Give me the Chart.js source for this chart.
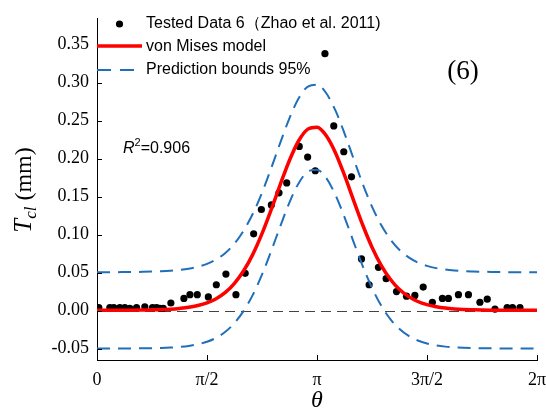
<!DOCTYPE html>
<html>
<head>
<meta charset="utf-8">
<script src="https://cdn.jsdelivr.net/npm/chart.js@4.4.1/dist/chart.umd.min.js"></script>
<style>
  html, body { margin: 0; padding: 0; background: #fff; }
  #wrap { width: 546px; height: 412px; }
</style>
</head>
<body>
<div id="wrap"><canvas id="c" width="546" height="412"></canvas></div>
<script>
// Angular positions (rad) of the fitted curves
const thetaGrid = [0, 0.131, 0.262, 0.393, 0.524, 0.654, 0.785, 0.916, 1.047, 1.178, 1.309, 1.440,
  1.571, 1.702, 1.833, 1.963, 2.094, 2.225, 2.356, 2.487, 2.618, 2.749, 2.880, 3.011,
  3.142, 3.272, 3.403, 3.534, 3.665, 3.796, 3.927, 4.058, 4.189, 4.320, 4.451, 4.581,
  4.712, 4.843, 4.974, 5.105, 5.236, 5.367, 5.498, 5.629, 5.760, 5.890, 6.021, 6.152, 6.283];

// von Mises model, Tcl (mm)
const modelTcl = [0.0003, 0.0004, 0.0004, 0.0004, 0.0006, 0.0007, 0.0010, 0.0013, 0.0019, 0.0029, 0.0043, 0.0067,
  0.0102, 0.0157, 0.0239, 0.0359, 0.0524, 0.0740, 0.1012, 0.1327, 0.1662, 0.1979, 0.2235, 0.2388,
  0.2413, 0.2304, 0.2081, 0.1781, 0.1448, 0.1123, 0.0834, 0.0596, 0.0413, 0.0277, 0.0184, 0.0120,
  0.0078, 0.0051, 0.0033, 0.0022, 0.0015, 0.0011, 0.0008, 0.0006, 0.0005, 0.0004, 0.0004, 0.0003, 0.0003];

// 95% prediction bounds, Tcl (mm)
const upperTcl = [0.0505, 0.0506, 0.0506, 0.0507, 0.0508, 0.0510, 0.0513, 0.0518, 0.0525, 0.0535, 0.0551, 0.0576,
  0.0615, 0.0673, 0.0758, 0.0882, 0.1052, 0.1274, 0.1551, 0.1872, 0.2211, 0.2533, 0.2793, 0.2948,
  0.2973, 0.2863, 0.2637, 0.2333, 0.1995, 0.1664, 0.1369, 0.1126, 0.0938, 0.0797, 0.0700, 0.0633,
  0.0589, 0.0559, 0.0540, 0.0528, 0.0520, 0.0515, 0.0511, 0.0509, 0.0508, 0.0506, 0.0506, 0.0505, 0.0505];
const lowerTcl = [-0.0499, -0.0499, -0.0498, -0.0498, -0.0497, -0.0496, -0.0494, -0.0491, -0.0486, -0.0478, -0.0465, -0.0443,
  -0.0410, -0.0358, -0.0279, -0.0164, -0.0004, 0.0207, 0.0473, 0.0783, 0.1112, 0.1425, 0.1677, 0.1829,
  0.1853, 0.1746, 0.1526, 0.1230, 0.0902, 0.0582, 0.0299, 0.0066, -0.0112, -0.0243, -0.0333, -0.0393,
  -0.0433, -0.0458, -0.0474, -0.0484, -0.0490, -0.0493, -0.0495, -0.0497, -0.0498, -0.0498, -0.0498, -0.0499, -0.0499];

// Tested Data 6 (Zhao et al. 2011)
const dataTheta = [0.026, 0.183, 0.240, 0.326, 0.397, 0.469, 0.565, 0.683, 0.793, 0.851, 0.898, 0.946,
  1.055, 1.241, 1.327, 1.432, 1.590, 1.704, 1.841, 1.984, 2.116, 2.237, 2.347, 2.490,
  2.599, 2.709, 2.888, 3.008, 3.117, 3.255, 3.381, 3.524, 3.634, 3.777, 3.886, 4.019,
  4.129, 4.277, 4.420, 4.539, 4.658, 4.789, 4.932, 5.018, 5.161, 5.304, 5.468, 5.573,
  5.683, 5.857, 5.933, 6.040];
const dataTcl = [0.004, 0.004, 0.004, 0.004, 0.004, 0.003, 0.004, 0.005, 0.004, 0.004, 0.003, 0.003,
  0.010, 0.016, 0.021, 0.021, 0.018, 0.034, 0.048, 0.021, 0.049, 0.101, 0.133, 0.139,
  0.155, 0.168, 0.216, 0.202, 0.184, 0.338, 0.243, 0.209, 0.176, 0.068, 0.034, 0.057,
  0.042, 0.025, 0.019, 0.020, 0.031, 0.011, 0.016, 0.016, 0.021, 0.021, 0.011, 0.015,
  0.002, 0.004, 0.004, 0.004];

const xTickValues = [0, 1.5708, 3.1416, 4.7124, 6.2832];
const xTickLabels = ['0', 'π/2', 'π', '3π/2', '2π'];
const yTickValues = [-0.05, 0, 0.05, 0.10, 0.15, 0.20, 0.25, 0.30, 0.35];

const RED = '#ff0000';
const BLUE = '#1f6fba';
const SERIF = "'Liberation Serif', 'Times New Roman', serif";
const SANS = "'Liberation Sans', Arial, sans-serif";

const pts = (xs, ys) => xs.map((x, i) => ({ x: x, y: ys[i] }));

const decorations = {
  id: 'decorations',
  beforeDatasetsDraw(chart) {
    const { ctx, chartArea: a, scales: { y } } = chart;
    const py = Math.round(y.getPixelForValue(0)) + 0.5;
    ctx.save();
    ctx.strokeStyle = '#444';
    ctx.lineWidth = 1;
    ctx.setLineDash([10, 6]);
    ctx.beginPath();
    ctx.moveTo(a.left, py);
    ctx.lineTo(a.right, py);
    ctx.stroke();
    ctx.restore();
  },
  afterDraw(chart) {
    const { ctx, chartArea: a, scales: { x, y } } = chart;
    ctx.save();
    // inward tick marks
    ctx.strokeStyle = '#000';
    ctx.lineWidth = 1;
    ctx.beginPath();
    yTickValues.forEach(v => {
      const py = Math.round(y.getPixelForValue(v)) + 0.5;
      ctx.moveTo(a.left, py);
      ctx.lineTo(a.left + 5, py);
    });
    xTickValues.forEach(v => {
      const px = Math.round(x.getPixelForValue(v)) + 0.5;
      ctx.moveTo(px, a.bottom);
      ctx.lineTo(px, a.bottom - 5);
    });
    ctx.stroke();

    // legend
    ctx.fillStyle = '#000';
    ctx.beginPath();
    ctx.arc(119.5, 24, 3.6, 0, Math.PI * 2);
    ctx.fill();
    ctx.strokeStyle = RED;
    ctx.lineWidth = 3.5;
    ctx.beginPath();
    ctx.moveTo(97, 46);
    ctx.lineTo(142, 46);
    ctx.stroke();
    ctx.strokeStyle = BLUE;
    ctx.lineWidth = 2;
    ctx.setLineDash([14, 9]);
    ctx.beginPath();
    ctx.moveTo(97, 70);
    ctx.lineTo(142, 70);
    ctx.stroke();
    ctx.setLineDash([]);
    ctx.font = '16px ' + SANS;
    ctx.textBaseline = 'middle';
    ctx.textAlign = 'left';
    ctx.fillText('Tested Data 6（Zhao et al. 2011)', 146, 24);
    ctx.fillText('von Mises model', 146, 46.5);
    ctx.fillText('Prediction bounds 95%', 146, 70);

    // coefficient of determination
    ctx.textBaseline = 'alphabetic';
    let tx = 123;
    const ty = 153;
    ctx.font = 'italic 16px ' + SANS;
    ctx.fillText('R', tx, ty);
    tx += ctx.measureText('R').width;
    ctx.font = '11px ' + SANS;
    ctx.fillText('2', tx, ty - 7);
    tx += ctx.measureText('2').width;
    ctx.font = '16px ' + SANS;
    ctx.fillText('=0.906', tx, ty);

    // panel label
    ctx.font = '27px ' + SERIF;
    ctx.textAlign = 'center';
    ctx.textBaseline = 'middle';
    ctx.fillText('(6)', 463, 72);

    // x-axis title
    ctx.font = 'italic 24px ' + SERIF;
    ctx.fillText('θ', x.getPixelForValue(3.1416), 401);

    // y-axis title: T_cl (mm)
    ctx.translate(31, 190);
    ctx.rotate(-Math.PI / 2);
    ctx.textAlign = 'left';
    ctx.textBaseline = 'alphabetic';
    const fT = 'italic 25px ' + SERIF, fSub = 'italic 17px ' + SERIF, fMm = '24px ' + SERIF;
    ctx.font = fT; const wT = ctx.measureText('T').width;
    ctx.font = fSub; const wS = ctx.measureText('cl').width;
    ctx.font = fMm; const wM = ctx.measureText(' (mm)').width;
    let sx = -(wT + wS + wM) / 2;
    ctx.font = fT; ctx.fillText('T', sx, 0); sx += wT;
    ctx.font = fSub; ctx.fillText('cl', sx, 5); sx += wS;
    ctx.font = fMm; ctx.fillText(' (mm)', sx, 0);
    ctx.restore();
  }
};

new Chart(document.getElementById('c'), {
  type: 'scatter',
  data: {
    datasets: [
      {
        label: 'Tested Data 6（Zhao et al. 2011)',
        data: pts(dataTheta, dataTcl),
        showLine: false,
        pointRadius: 3.6,
        pointBackgroundColor: '#000',
        pointBorderWidth: 0,
        order: 3
      },
      {
        label: 'von Mises model',
        data: pts(thetaGrid, modelTcl),
        showLine: true,
        borderColor: RED,
        borderWidth: 3.5,
        pointRadius: 0,
        cubicInterpolationMode: 'monotone',
        order: 2
      },
      {
        label: 'Prediction bounds 95%',
        data: pts(thetaGrid, upperTcl),
        showLine: true,
        borderColor: BLUE,
        borderWidth: 2,
        borderDash: [13, 8],
        pointRadius: 0,
        cubicInterpolationMode: 'monotone',
        order: 1
      },
      {
        label: 'Prediction bounds 95% (lower)',
        data: pts(thetaGrid, lowerTcl),
        showLine: true,
        borderColor: BLUE,
        borderWidth: 2,
        borderDash: [13, 8],
        pointRadius: 0,
        cubicInterpolationMode: 'monotone',
        order: 1
      }
    ]
  },
  options: {
    responsive: false,
    animation: false,
    devicePixelRatio: 1,
    layout: { padding: { top: 18, right: 9, left: 0, bottom: 0 } },
    plugins: { legend: { display: false }, tooltip: { enabled: false } },
    scales: {
      x: {
        type: 'linear',
        min: 0,
        max: 6.2832,
        afterBuildTicks: s => { s.ticks = xTickValues.map(v => ({ value: v })); },
        afterFit: s => { s.height = 52; s.paddingLeft = 0; s.paddingRight = 0; },
        ticks: {
          autoSkip: false,
          maxRotation: 0,
          padding: 9,
          color: '#000',
          font: { family: SERIF, size: 18 },
          callback: (v, i) => xTickLabels[i]
        },
        grid: { drawOnChartArea: false, drawTicks: false },
        border: { display: true, color: '#000', width: 1 }
      },
      y: {
        type: 'linear',
        min: -0.065,
        max: 0.385,
        afterBuildTicks: s => { s.ticks = yTickValues.map(v => ({ value: v })); },
        afterFit: s => { s.width = 97; s.paddingTop = 0; s.paddingBottom = 0; },
        ticks: {
          autoSkip: false,
          padding: 8,
          color: '#000',
          font: { family: SERIF, size: 18 },
          callback: v => v.toFixed(2)
        },
        grid: { drawOnChartArea: false, drawTicks: false },
        border: { display: true, color: '#000', width: 1 }
      }
    }
  },
  plugins: [decorations]
});
</script>
</body>
</html>
